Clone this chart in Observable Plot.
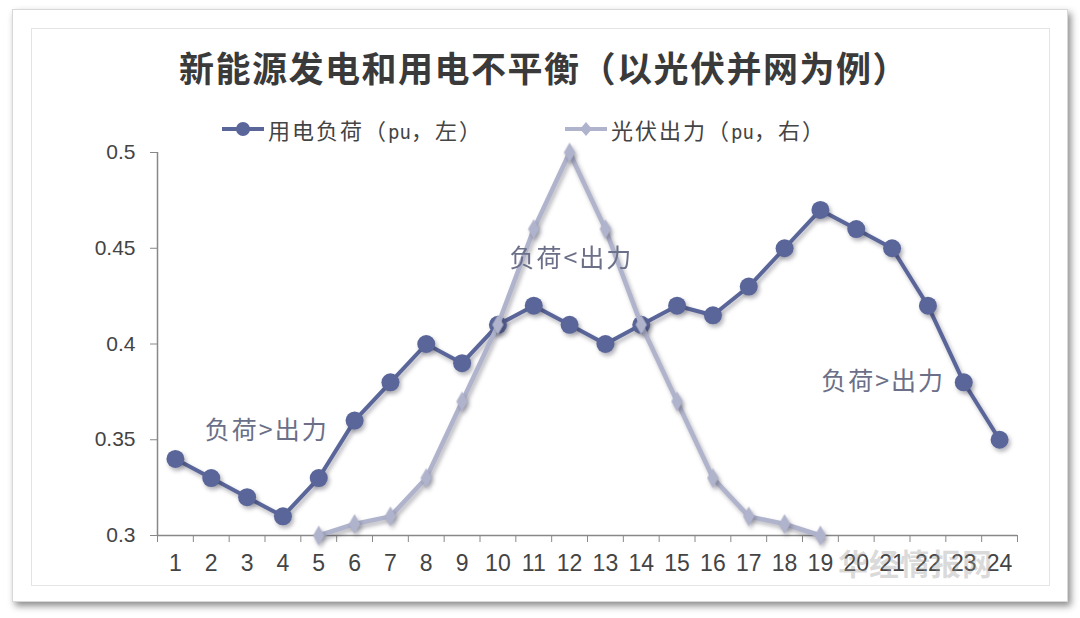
<!DOCTYPE html>
<html><head><meta charset="utf-8">
<script src="https://cdn.jsdelivr.net/npm/d3@7"></script>
<script src="https://cdn.jsdelivr.net/npm/@observablehq/plot@0.6"></script>
<style>
body{margin:0;background:#fff;width:1080px;height:618px;position:relative;overflow:hidden;font-family:"Noto Sans CJK SC",sans-serif;}
#card{position:absolute;left:12px;top:9px;width:1054px;height:591px;background:#fff;border:1px solid #d8d8d8;box-shadow:3px 4px 7px rgba(0,0,0,0.45);}
#inner{position:absolute;left:31px;top:28px;width:1017px;height:556px;border:1px solid #e4e4e4;}
#title{position:absolute;left:0;top:41px;width:1080px;text-align:center;font-size:35px;font-weight:bold;color:#3a3a3a;letter-spacing:1.5px;padding-left:8px;box-sizing:border-box;}
.leg{position:absolute;top:113px;font-size:22px;color:#444;display:flex;align-items:center;letter-spacing:2px;}
.mono{font-family:"DejaVu Sans Mono",monospace;font-size:19px;letter-spacing:0;}
#chart{position:absolute;left:0;top:140px;}
#wm{position:absolute;left:838px;top:540px;font-size:30px;font-weight:bold;color:rgba(150,150,150,0.35);letter-spacing:1px;}
</style></head>
<body>
<div id="card"></div>
<div id="inner"></div>
<div id="title">新能源发电和用电不平衡（以光伏并网为例）</div>
<div class="leg" style="left:220px"><svg width="46" height="20"><line x1="2" y1="10" x2="44" y2="10" stroke="#5a6699" stroke-width="4"/><circle cx="23" cy="10" r="7" fill="#5a6699"/></svg><span style="margin-left:2px">用电负荷（<span class="mono">pu</span>，左）</span></div>
<div class="leg" style="left:563px"><svg width="46" height="20"><line x1="2" y1="10" x2="44" y2="10" stroke="#b0b3cc" stroke-width="4"/><path d="M23,3 L29,10 L23,17 L17,10Z" fill="#b0b3cc"/></svg><span style="margin-left:2px">光伏出力（<span class="mono">pu</span>，右）</span></div>
<div id="chart"></div>
<div id="wm">华经情报网</div>
<script>
const hours = d3.range(1, 25);
const load = [0.34,0.33,0.32,0.31,0.33,0.36,0.38,0.40,0.39,0.41,0.42,0.41,0.40,0.41,0.42,0.415,0.43,0.45,0.47,0.46,0.45,0.42,0.38,0.35];
const pvHours = [5,6,7,8,9,10,11,12,13,14,15,16,17,18,19];
const pv = [0.30,0.306,0.31,0.33,0.37,0.41,0.46,0.50,0.46,0.41,0.37,0.33,0.31,0.306,0.30];
const yTicks = [0.3,0.35,0.4,0.45,0.5];
const noteText = ["负荷>出力","负荷<出力","负荷>出力"];
const noteHour = [3.55,12.05,20.75];
const noteVal = [0.3545,0.4445,0.38];

const loadData = hours.map((h,i)=>({h, v: load[i]}));
const pvData = pvHours.map((h,i)=>({h, v: pv[i]}));
const notes = noteText.map((t,i)=>({t, h: noteHour[i], v: noteVal[i]}));
const bounds = d3.range(0.5, 25, 1);

const dark = "#5a6699", light = "#b0b3cc";
const chart = Plot.plot({
  width: 1080, height: 445,
  marginLeft: 157, marginRight: 63, marginTop: 12, marginBottom: 50,
  style: {fontFamily: "Liberation Sans, Arial, sans-serif", color: "#444", background: "transparent"},
  x: {type: "linear", domain: [0.5, 24.5]},
  y: {domain: [0.3, 0.5]},
  marks: [
    Plot.axisY({ticks: yTicks, tickSize: 7, tickPadding: 15, tickFormat: d => String(d), fontSize: 21, label: null, stroke: "#888"}),
    Plot.ruleX([0.5], {stroke: "#888", strokeWidth: 1.5}),
    Plot.ruleY([0.3], {stroke: "#888", strokeWidth: 1.5}),
    Plot.axisX({ticks: bounds, tickSize: 7, tickFormat: () => "", label: null, stroke: "#888"}),
    Plot.axisX({ticks: hours, tickSize: 0, tickPadding: 19, tickFormat: d => String(d), fontSize: 23, label: null}),
    Plot.line(loadData, {x: "h", y: "v", stroke: dark, strokeWidth: 4}),
    Plot.dot(loadData, {x: "h", y: "v", r: 9, fill: dark}),
    Plot.line(pvData, {x: "h", y: "v", stroke: light, strokeWidth: 4.5}),
    Plot.dot(pvData, {x: "h", y: "v", r: 6, symbol: "diamond", fill: light}),
    Plot.text(notes, {x: "h", y: "v", text: "t", fontSize: 25, fill: "#6b6f88", fontFamily: "Noto Sans CJK SC, sans-serif"})
  ]
});
document.getElementById("chart").appendChild(chart);
d3.select(chart).selectAll('g[aria-label="line"], g[aria-label="dot"]').style("filter", "drop-shadow(2px 3px 2px rgba(40,40,60,0.35))");
d3.select(chart).selectAll('g[aria-label="text"] text').style("letter-spacing", "2px");
</script>
</body></html>
